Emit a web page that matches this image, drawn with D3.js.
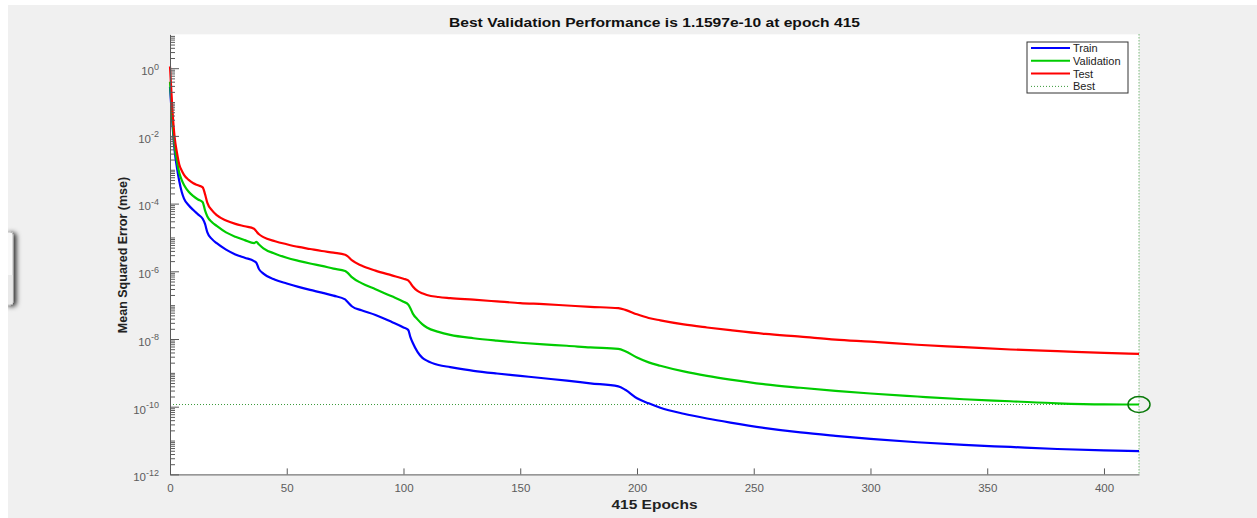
<!DOCTYPE html>
<html>
<head>
<meta charset="utf-8">
<script src="https://cdn.jsdelivr.net/npm/d3@7"></script>
<style>
  body { margin: 0; background: #ffffff; }
  text { font-family: "Liberation Sans", Arial, sans-serif; }
</style>
</head>
<body>
<svg id="perfSVG" width="1257" height="518"></svg>
<script>
var epochs = [0,1,2,3,4,5,6,8,10,12,14,15,16,18,20,24,28,32,36,37,38,40,45,50,55,60,65,70,75,76,78,82,88,95,100,102,103,104,106,108,110,115,120,130,140,150,160,170,180,192,195,200,205,210,220,230,240,255,270,285,300,320,340,360,380,400,415];

var trainMse = [2.82e-1,2.51e-2,3.55e-3,1.12e-3,4.47e-4,2.24e-4,1.41e-4,8.91e-5,6.46e-5,4.79e-5,3.55e-5,2.51e-5,1.41e-5,8.91e-6,6.76e-6,4.37e-6,3.16e-6,2.51e-6,2.0e-6,1.78e-6,1.20e-6,8.51e-7,5.62e-7,4.37e-7,3.47e-7,2.82e-7,2.34e-7,1.91e-7,1.48e-7,1.26e-7,9.12e-8,7.08e-8,5.13e-8,3.16e-8,2.19e-8,1.86e-8,1.12e-8,7.59e-9,4.17e-9,2.82e-9,2.29e-9,1.70e-9,1.48e-9,1.15e-9,9.55e-10,8.13e-10,6.92e-10,5.89e-10,4.90e-10,3.98e-10,3.16e-10,1.78e-10,1.26e-10,9.33e-11,6.17e-11,4.47e-11,3.39e-11,2.34e-11,1.74e-11,1.38e-11,1.12e-11,8.91e-12,7.41e-12,6.46e-12,5.62e-12,5.13e-12,4.90e-12];

var validationMse = [3.98e-1,3.16e-2,5.01e-3,1.78e-3,7.94e-4,5.01e-4,3.55e-4,2.24e-4,1.66e-4,1.32e-4,1.10e-4,6.31e-5,4.17e-5,2.82e-5,2.19e-5,1.41e-5,1.05e-5,8.32e-6,6.76e-6,7.41e-6,6.31e-6,4.79e-6,3.31e-6,2.51e-6,2.04e-6,1.70e-6,1.45e-6,1.20e-6,1.02e-6,9.12e-7,6.61e-7,4.47e-7,2.95e-7,1.82e-7,1.26e-7,1.05e-7,7.94e-8,5.62e-8,3.80e-8,2.75e-8,2.19e-8,1.62e-8,1.32e-8,1.05e-8,8.91e-9,7.76e-9,6.92e-9,6.31e-9,5.62e-9,5.13e-9,4.37e-9,2.82e-9,2.04e-9,1.62e-9,1.10e-9,8.13e-10,6.31e-10,4.57e-10,3.63e-10,2.95e-10,2.45e-10,2.0e-10,1.66e-10,1.45e-10,1.26e-10,1.17e-10,1.1597e-10];

var testMse = [1.12e0,6.31e-2,8.91e-3,3.16e-3,1.41e-3,9.55e-4,7.08e-4,5.01e-4,3.98e-4,3.47e-4,3.02e-4,1.91e-4,1.05e-4,6.31e-5,4.57e-5,3.16e-5,2.51e-5,2.14e-5,1.82e-5,1.51e-5,1.26e-5,1.02e-5,7.76e-6,6.31e-6,5.25e-6,4.57e-6,3.98e-6,3.55e-6,3.09e-6,2.82e-6,2.09e-6,1.48e-6,1.05e-6,7.59e-7,6.03e-7,5.37e-7,4.47e-7,3.55e-7,2.63e-7,2.24e-7,2.0e-7,1.74e-7,1.62e-7,1.45e-7,1.29e-7,1.15e-7,1.07e-7,9.77e-8,8.91e-8,8.13e-8,7.24e-8,5.37e-8,4.17e-8,3.55e-8,2.69e-8,2.19e-8,1.82e-8,1.41e-8,1.17e-8,9.55e-9,8.32e-9,6.76e-9,5.75e-9,4.90e-9,4.37e-9,3.89e-9,3.63e-9];

var bestEpoch = 415;
var bestPerf = 1.1597e-10;

var xTicks = [0,50,100,150,200,250,300,350,400];
var yLabelExps = [0,-2,-4,-6,-8,-10,-12];
var seriesNames = ["Train", "Validation", "Test"];
var seriesColors = ["#0000ff", "#00cc00", "#ff0000"];

var svg = d3.select("#perfSVG");

// window background
svg.append("rect").attr("x", 8).attr("y", 5).attr("width", 1249).attr("height", 513).attr("fill", "#f0f0f0");

// little panel tab on the left edge
var defs = svg.append("defs");
var f = defs.append("filter").attr("id", "shadow").attr("x", "-100%").attr("y", "-20%").attr("width", "400%").attr("height", "140%");
f.append("feDropShadow").attr("dx", 3).attr("dy", 1).attr("stdDeviation", 2.5).attr("flood-color", "#000").attr("flood-opacity", 0.8);
svg.append("rect").attr("x", 4).attr("y", 232).attr("width", 9).attr("height", 73).attr("rx", 3)
    .attr("fill", "#f8f8f8").attr("stroke", "#b8b8b8").attr("filter", "url(#shadow)");
svg.append("rect").attr("x", 8).attr("y", 275).attr("width", 4.5).attr("height", 29).attr("fill", "#e9e9e9");
svg.append("rect").attr("x", 0).attr("y", 220).attr("width", 8).attr("height", 100).attr("fill", "#ffffff");

var x = d3.scaleLinear().domain([0, 415]).range([170, 1139]);
var y = d3.scaleLog().domain([1e-12, 10]).range([474.4, 34.35]);

// plot area
svg.append("rect")
    .attr("x", x(0)).attr("y", y(10))
    .attr("width", x(415) - x(0)).attr("height", y(1e-12) - y(10))
    .attr("fill", "#ffffff");

// best lines
svg.append("line")
    .attr("x1", x(0)).attr("x2", x(415)).attr("y1", y(bestPerf)).attr("y2", y(bestPerf))
    .attr("stroke", "#3a9a3a").attr("stroke-width", 1).attr("stroke-dasharray", "1,2");
svg.append("line")
    .attr("x1", x(bestEpoch)).attr("x2", x(bestEpoch)).attr("y1", y(10)).attr("y2", y(1e-12))
    .attr("stroke", "#3a9a3a").attr("stroke-width", 1).attr("stroke-dasharray", "1,2");

// series
var allSeries = [trainMse, validationMse, testMse];
var line = d3.line()
    .x(function(d, i) { return x(epochs[i]); })
    .y(function(d) { return y(d); })
    .curve(d3.curveMonotoneX);

allSeries.forEach(function(s, i) {
    svg.append("path")
        .datum(s)
        .attr("fill", "none")
        .attr("stroke", seriesColors[i])
        .attr("stroke-width", 2.2)
        .attr("d", line);
});

// best marker
svg.append("ellipse")
    .attr("cx", x(bestEpoch)).attr("cy", y(bestPerf))
    .attr("rx", 11).attr("ry", 8)
    .attr("fill", "none").attr("stroke", "#0a7a0a").attr("stroke-width", 1.5);

// y axis: minor ticks then labelled major ticks
var minorVals = [];
for (var e = -12; e < 1; e++) {
    for (var m = 1; m < 10; m++) {
        if (m === 1 && e % 2 === 0) continue;
        minorVals.push(m * Math.pow(10, e));
    }
}
var yMinor = svg.append("g")
    .attr("transform", "translate(" + x(0) + ",0)")
    .call(d3.axisLeft(y).tickValues(minorVals).tickSize(-5).tickSizeOuter(0).tickFormat(""));
yMinor.select(".domain").remove();

var yMajor = svg.append("g")
    .attr("transform", "translate(" + x(0) + ",0)")
    .call(d3.axisLeft(y).tickValues(yLabelExps.map(function(p) { return Math.pow(10, p); }))
        .tickSize(-9).tickSizeOuter(0).tickPadding(11).tickFormat(""));

yMajor.selectAll(".tick text").each(function(d) {
    var t = d3.select(this);
    t.attr("font-size", "11.5px").attr("dy", "0.55em");
    t.append("tspan").text("10");
    t.append("tspan").attr("dy", "-0.6em").attr("font-size", "9px").text(Math.round(Math.log10(d)));
});

var xAxis = svg.append("g")
    .attr("transform", "translate(0," + y(1e-12) + ")")
    .call(d3.axisBottom(x).tickValues(xTicks).tickSize(-6).tickSizeOuter(0).tickPadding(9));
xAxis.selectAll(".tick text").attr("font-size", "11.5px");

svg.selectAll(".domain").attr("stroke", "#5a5a5a");
svg.selectAll(".tick line").attr("stroke", "#5a5a5a");
svg.selectAll(".tick text").attr("fill", "#5c5c5c").attr("font-family", "Liberation Sans, Arial, sans-serif");

// titles
svg.append("text")
    .attr("x", 654.5).attr("y", 27)
    .attr("text-anchor", "middle")
    .attr("font-weight", "bold").attr("font-size", "12.6px").attr("fill", "#111")
    .attr("textLength", 411).attr("lengthAdjust", "spacingAndGlyphs")
    .text("Best Validation Performance is 1.1597e-10 at epoch 415");

svg.append("text")
    .attr("x", 654.5).attr("y", 509)
    .attr("text-anchor", "middle")
    .attr("font-weight", "bold").attr("font-size", "12.6px").attr("fill", "#222")
    .attr("textLength", 86).attr("lengthAdjust", "spacingAndGlyphs")
    .text("415 Epochs");

svg.append("text")
    .attr("transform", "translate(127,255) rotate(-90)")
    .attr("text-anchor", "middle")
    .attr("font-weight", "bold").attr("font-size", "12.5px").attr("fill", "#222")
    .text("Mean Squared Error  (mse)");

// legend
var legend = svg.append("g").attr("transform", "translate(1027,42)");
legend.append("rect").attr("width", 101).attr("height", 51)
    .attr("fill", "#ffffff").attr("stroke", "#333").attr("stroke-width", 1);

var legendNames = seriesNames.concat(["Best"]);
legendNames.forEach(function(name, i) {
    var row = legend.append("g").attr("transform", "translate(0," + (6 + i * 12.8) + ")");
    var ln = row.append("line").attr("x1", 4).attr("x2", 43).attr("y1", 0).attr("y2", 0);
    if (i < 3) {
        ln.attr("stroke", seriesColors[i]).attr("stroke-width", 2);
    } else {
        ln.attr("stroke", "#3a9a3a").attr("stroke-width", 1).attr("stroke-dasharray", "1,2");
    }
    row.append("text").attr("x", 46).attr("y", 4)
        .attr("font-size", "11px").attr("fill", "#222")
        .text(name);
});
</script>
</body>
</html>
